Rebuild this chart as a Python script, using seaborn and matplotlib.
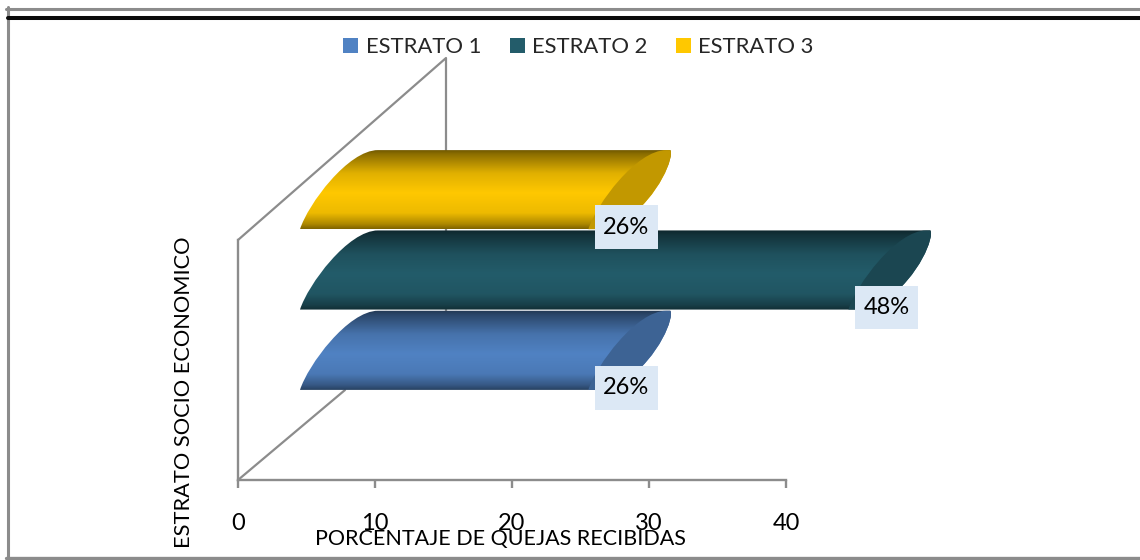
import numpy as np
import pandas as pd
import matplotlib
matplotlib.use("Agg")
import matplotlib.pyplot as plt
from matplotlib.colors import to_rgb
from matplotlib.lines import Line2D
from matplotlib.patches import Patch, PathPatch
from matplotlib.path import Path
from matplotlib.transforms import Affine2D
import seaborn as sns

strata = ["ESTRATO 1", "ESTRATO 2", "ESTRATO 3"]
percent = [26, 48, 26]
labels = ["26%", "48%", "26%"]
colors = ["#5082c3", "#235c6a", "#ffc800"]
x_ticks = [0, 10, 20, 30, 40]
x_title = "PORCENTAJE DE QUEJAS RECIBIDAS"
y_title = "ESTRATO SOCIO ECONOMICO"

W, H = 1140, 560
GREY = "#8c8c8c"
BAR_START = 19  # px the cylinders start after the zero of their own scale

# vertical shading of the cylinders
shade_pos = [0, 0.06, 0.3, 0.55, 0.8, 0.94, 1]
shade_val = [0.42, 0.55, 0.88, 1.0, 0.93, 0.68, 0.5]


def rect(x0, x1, y_top, y_bot):
    return [x0 / W, 1 - y_bot / H, (x1 - x0) / W, (y_bot - y_top) / H]


def cylinder(ax, bar, color):
    xlim = ax.get_xlim()
    ylim = ax.get_ylim()
    box = ax.get_position()
    ux = (xlim[1] - xlim[0]) / (box.width * W)
    uy = (ylim[0] - ylim[1]) / (box.height * H)
    x0 = bar.get_x() + BAR_START * ux
    x1 = bar.get_x() + bar.get_width()
    yb = bar.get_y() + bar.get_height()
    yt = bar.get_y()
    ph = (yb - yt) / uy

    def pt(x, dx, dy):
        return (x + dx * ux, yb - dy * uy)

    upper = [pt(x1, 0, 0), pt(x1, 8, 25), pt(x1, 48, ph), pt(x1, 78, ph)]
    lower = [pt(x1, 82, ph), pt(x1, 86, ph - 6), pt(x1, 72, 34), pt(x1, 36, 8), pt(x1, 8, 0)]
    body = [pt(x0, 0, 0), pt(x0, 8, 25), pt(x0, 48, ph), pt(x0, 78, ph)]
    verts = body + [upper[3]] + lower + [body[0], body[0]]
    codes = [Path.MOVETO, Path.CURVE4, Path.CURVE4, Path.CURVE4, Path.LINETO,
             Path.LINETO, Path.CURVE4, Path.CURVE4, Path.CURVE4, Path.LINETO,
             Path.LINETO, Path.CLOSEPOLY]
    clip = PathPatch(Path(verts, codes), transform=ax.transData, fc="none", ec="none")
    ax.add_patch(clip)

    t = np.linspace(0, 1, 160)
    shade = np.interp(t, shade_pos, shade_val)
    img = np.outer(shade, to_rgb(color)).reshape(160, 1, 3)
    im = ax.imshow(img, aspect="auto", interpolation="bilinear", origin="upper",
                   extent=(x0, x1 + 90 * ux, yb, yt), zorder=2)
    im.set_clip_path(clip)

    cap = upper + lower + [upper[0], upper[0]]
    cap_codes = [Path.MOVETO, Path.CURVE4, Path.CURVE4, Path.CURVE4,
                 Path.LINETO, Path.CURVE4, Path.CURVE4, Path.CURVE4, Path.LINETO,
                 Path.LINETO, Path.CLOSEPOLY]
    ax.add_patch(PathPatch(Path(cap, cap_codes), transform=ax.transData,
                           fc=np.array(to_rgb(color)) * 0.76, ec="none", zorder=3))
    ax.set_xlim(xlim)
    ax.set_ylim(ylim)


sns.set_theme(style="white")
plt.rcParams["font.family"] = ["Lato", "DejaVu Sans"]

fig = plt.figure(figsize=(W / 100, H / 100), dpi=100)
to_px = Affine2D().scale(1 / W, -1 / H).translate(0, 1) + fig.transFigure

# value axis
ax = fig.add_axes(rect(238, 786, 240, 480))
ax.set_xlim(x_ticks[0], x_ticks[-1])
ax.set_xticks(x_ticks)
ax.set_yticks([])
ax.patch.set_visible(False)
sns.despine(ax=ax)
for side in ["left", "bottom"]:
    ax.spines[side].set_color(GREY)
    ax.spines[side].set_linewidth(1.7)
ax.tick_params(axis="x", direction="out", bottom=True, length=6, width=1.7,
               color=GREY, labelsize=17, labelcolor="black", pad=18)

# box walls behind the bars
for xs, ys in [((238, 446, 446), (240, 58, 320)), ((238, 345), (480, 390))]:
    fig.add_artist(Line2D(xs, ys, color=GREY, lw=1.6, transform=to_px, zorder=-1))

# frame
fig.add_artist(Line2D((7.5, 7.5), (558, 7), color=GREY, lw=2.2, transform=to_px))
fig.add_artist(Line2D((6, W), (8.5, 8.5), color=GREY, lw=2.2, transform=to_px))
fig.add_artist(Line2D((8, W), (18, 18), color="#0a0a0a", lw=2.9, transform=to_px))
fig.add_artist(Line2D((6, W), (557.7, 557.7), color=GREY, lw=2.4, transform=to_px))

# bars
df = pd.DataFrame({"estrato": strata, "pct": percent})
bar_ax = fig.add_axes(rect(281, 281 + 60 * 11.82, 149.5, 390.5))
sns.barplot(data=df, x="pct", y="estrato", hue="estrato", order=strata[::-1],
            hue_order=strata, palette=colors, width=0.985, dodge=False,
            legend=False, ax=bar_ax)
bar_ax.set_xlim(0, 60)
bar_ax.set_ylim(2.5, -0.5)
bar_ax.axis("off")
for cont, color, lab in zip(bar_ax.containers, colors, labels):
    bar = cont[0]
    cylinder(bar_ax, bar, color)
    bar.set_visible(False)
    bar_ax.annotate(lab, (bar.get_width(), bar.get_y() + bar.get_height() / 2),
                    xytext=(38 * 0.72, -37.5 * 0.72), textcoords="offset points",
                    ha="center", va="center", fontsize=17, color="black", zorder=10,
                    bbox=dict(boxstyle="square,pad=0.36", fc="#dce8f5", ec="none",
                              mutation_aspect=1.35))

handles = [Patch(fc=c, ec="none", label=s) for c, s in zip(colors, strata)]
fig.legend(handles=handles, loc="center", bbox_to_anchor=(578.5 / W, 1 - 47 / H), ncol=3,
           frameon=False, fontsize=15.8, handlelength=0.69, handleheight=0.69,
           handletextpad=0.33, columnspacing=1.3, borderpad=0)

fig.text(500.5 / W, 1 - 539 / H, x_title, ha="center", va="center", fontsize=15.5, color="black")
fig.text(184 / W, 1 - 392.5 / H, y_title, rotation=90, ha="center", va="center",
         fontsize=15.7, color="black")

fig.savefig("out.png", dpi=100)
